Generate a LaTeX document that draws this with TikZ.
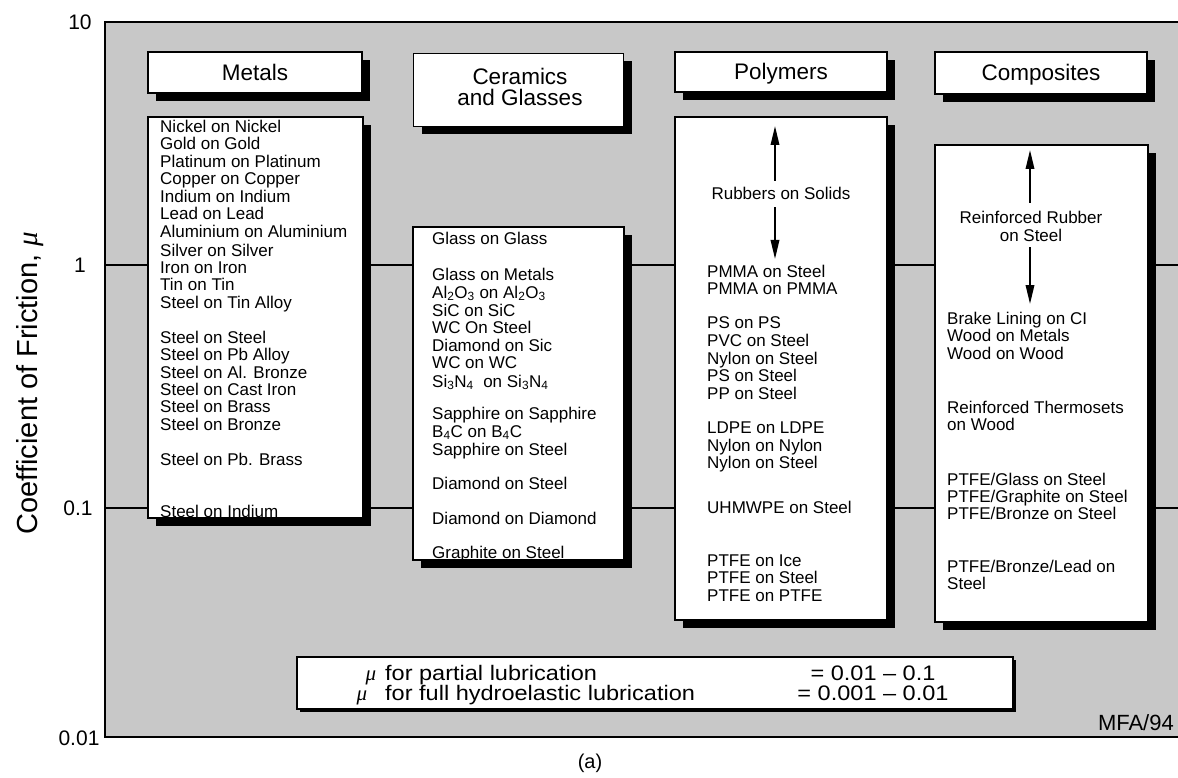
\documentclass[tikz,border=0pt]{standalone}
\usepackage{fontspec}
\setmainfont{Liberation Sans}
\newfontfamily\grk{Liberation Serif}
\newfontfamily\widefont[FakeStretch=1.12]{Liberation Sans}
\usetikzlibrary{arrows.meta,shadows}
\definecolor{bg}{RGB}{200,200,200}
\newcommand{\fsz}[1]{\fontsize{#1}{#1}\selectfont}
\newcommand{\mumu}{{\grk\itshape μ}}
\begin{document}
\begin{tikzpicture}[x=1pt,y=-1pt,
  shbox/.style={draw=black, line width=1.6pt, fill=white, inner sep=0pt, outer sep=0pt,
    drop shadow={shadow xshift=8pt, shadow yshift=-8pt, fill=black, opacity=1}},
  thinbox/.style={draw=black, line width=1.6pt, fill=white, inner sep=0pt, outer sep=0pt,
    drop shadow={shadow xshift=3pt, shadow yshift=-3pt, fill=black, opacity=1}},
  hdtext/.style={inner sep=0pt, font=\fsz{22.5}, text height=16pt, text depth=0pt},
  hdtwo/.style={inner sep=0pt, font=\fsz{22.5}, align=center},
  lst/.style={anchor=west, inner sep=0pt, text height=12pt, text depth=0pt, font=\fsz{17}},
  clst/.style={lst, anchor=center},
  ticklbl/.style={inner sep=0pt, font=\fsz{21}},
  btxt/.style={inner sep=0pt, font=\widefont\fsz{21}},
  arr/.style={line width=1.8pt, -{Triangle[length=19pt,width=8.5pt]}},
  gridln/.style={line width=1.3pt},
  frameln/.style={line width=2.5pt},
]
\useasboundingbox (0,0) rectangle (1178,778);
% plot area
\fill[bg] (105,22) rectangle (1178,737);
\coordinate (g1l) at (105,265); \coordinate (g1r) at (1178,265);
\coordinate (g2l) at (105,508); \coordinate (g2r) at (1178,508);
\draw[gridln] (g1l) -- (g1r);
\draw[gridln] (g2l) -- (g2r);
\coordinate (ftr) at (1178,22); \coordinate (ftl) at (105,22);
\coordinate (fbl) at (105,737); \coordinate (fbr) at (1178,737);
\draw[frameln] (ftr) -- (ftl) -- (fbl) -- (fbr);

% axis labels
\node[ticklbl] (t10) at (80,22) {10};
\node[ticklbl] (t1) at (80,265) {1};
\node[ticklbl] (t01) at (78,508) {0.1};
\node[ticklbl] (t001) at (79,738) {0.01};
\node[rotate=90, anchor=base, inner sep=0pt, font=\fsz{29}] (ylab) at (37,383) {Coefficient of Friction, \mumu};

% header boxes
\node[shbox, minimum width=214pt, minimum height=41pt] (hmet) at (255,72.5) {};
\node[hdtext] (tmet) at (hmet) {Metals};
\node[shbox, minimum width=210pt, minimum height=73pt] (hcer) at (518.5,90) {};
\node[hdtwo] (tcer) at (520,87) {Ceramics\\[-2pt]and Glasses};
\node[shbox, minimum width=212pt, minimum height=40pt] (hpol) at (781,72) {};
\node[hdtext] (tpol) at (hpol) {Polymers};
\node[shbox, minimum width=212pt, minimum height=42pt] (hcom) at (1041,73) {};
\node[hdtext] (tcom) at (hcom) {Composites};

% list boxes
\node[shbox, minimum width=215pt, minimum height=401pt] (bmet) at (255.5,317.5) {};
\node[shbox, minimum width=211pt, minimum height=333pt] (bcer) at (518.5,393.5) {};
\node[shbox, minimum width=212pt, minimum height=503pt] (bpol) at (781,368.5) {};
\node[shbox, minimum width=213pt, minimum height=477pt] (bcom) at (1041.5,383.5) {};

% metals
\foreach \yy/\txt [count=\i] in {127/Nickel on Nickel, 144/Gold on Gold, 162/Platinum on Platinum,
  179/Copper on Copper, 197/Indium on Indium, 214/Lead on Lead, 232/Aluminium on Aluminium,
  250/Silver on Silver, 267/Iron on Iron, 284/Tin on Tin, 302/Steel on Tin Alloy,
  337/Steel on Steel, 354/Steel on Pb Alloy, 372/Steel on Al. Bronze, 389/Steel on Cast Iron,
  406/Steel on Brass, 424/Steel on Bronze, 459/Steel on Pb. Brass, 511/Steel on Indium}
  { \node[lst] (met\i) at (160,\yy) {\txt}; }

% ceramics
\foreach \yy/\txt [count=\i] in {238/Glass on Glass, 274/Glass on Metals,
  292/{Al\textsubscript{2}O\textsubscript{3}\ on Al\textsubscript{2}O\textsubscript{3}},
  310/SiC on SiC, 327/WC On Steel, 345/Diamond on Sic, 362/WC on WC,
  381/{Si\textsubscript{3}N\textsubscript{4}\ \ on Si\textsubscript{3}N\textsubscript{4}},
  413/Sapphire on Sapphire, 431/{B\textsubscript{4}C on B\textsubscript{4}C},
  449/Sapphire on Steel, 483/Diamond on Steel, 518/Diamond on Diamond, 552/Graphite on Steel}
  { \node[lst] (cer\i) at (432,\yy) {\txt}; }

% polymers
\node[clst] (rub) at (781,194) {Rubbers on Solids};
\coordinate (pu) at (775,126); \coordinate (pd) at (775,259);
\draw[arr, shorten <=7pt] (rub.north -| pu) -- (pu);
\draw[arr, shorten <=7pt] (rub.south -| pd) -- (pd);
\foreach \yy/\txt [count=\i] in {271/PMMA on Steel, 288/PMMA on PMMA, 322/PS on PS,
  340/PVC on Steel, 358/Nylon on Steel, 375/PS on Steel, 393/PP on Steel,
  427/LDPE on LDPE, 445/Nylon on Nylon, 462/Nylon on Steel, 507/UHMWPE on Steel,
  560/PTFE on Ice, 577/PTFE on Steel, 595/PTFE on PTFE}
  { \node[lst] (pol\i) at (707,\yy) {\txt}; }

% composites
\node[clst] (rr1) at (1031,218) {Reinforced Rubber};
\node[clst] (rr2) at (1031,235) {on Steel};
\coordinate (cu) at (1030,150); \coordinate (cd) at (1030,304);
\draw[arr, shorten <=9pt] (rr1.north -| cu) -- (cu);
\draw[arr, shorten <=6pt] (rr2.south -| cd) -- (cd);
\foreach \yy/\txt [count=\i] in {318/Brake Lining on CI, 335/Wood on Metals, 353/Wood on Wood,
  407/Reinforced Thermosets, 424/on Wood, 479/{PTFE/Glass on Steel},
  496/{PTFE/Graphite on Steel}, 513/{PTFE/Bronze on Steel},
  566/{PTFE/Bronze/Lead on}, 583/Steel}
  { \node[lst] (com\i) at (947,\yy) {\txt}; }

% lubrication box
\node[thinbox, minimum width=716pt, minimum height=52pt] (lub) at (655,683) {};
\node[btxt, anchor=base] (mu1) at (371,680) {\mumu};
\node[btxt, anchor=base west] (l1) at (385,680) {for partial lubrication};
\node[btxt, anchor=base] (v1) at (873,680) {= 0.01 \textendash\ 0.1};
\node[btxt, anchor=base] (mu2) at (362,700) {\mumu};
\node[btxt, anchor=base west] (l2) at (385,700) {for full hydroelastic lubrication};
\node[btxt, anchor=base] (v2) at (873,700) {= 0.001 \textendash\ 0.01};

\node[anchor=base east, inner sep=0pt, font=\fsz{22}] (mfa) at (1174,730) {MFA/94};
\node[inner sep=0pt, font=\fsz{20}] (cap) at (590,763) {(a)};
\end{tikzpicture}
\end{document}
